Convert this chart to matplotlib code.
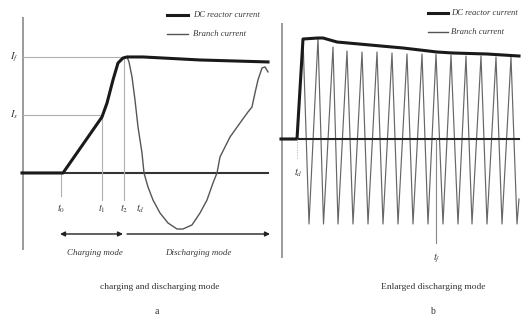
import matplotlib
matplotlib.use("Agg")
import matplotlib.pyplot as plt

plt.rcParams["mathtext.fontset"] = "stix"

# ---------------- data (a): charging and discharging mode ----------------
a_dc_t = [-0.01, 0.38, 0.40, 0.79, 0.84, 0.90, 0.95, 1.00, 1.04, 1.20, 1.77, 2.45]
a_dc_i = [0.0, 0.0, 0.0, 0.483, 0.603, 0.802, 0.948, 0.991, 1.0, 1.0, 0.974, 0.957]

a_br_t = [-0.01, 0.38, 0.40, 0.79, 0.84, 0.90, 0.95, 1.00, 1.04, 1.06, 1.09, 1.12,
          1.15, 1.19, 1.21, 1.25, 1.30, 1.37, 1.45, 1.54, 1.60, 1.69, 1.77, 1.84,
          1.90, 1.94, 1.97, 2.07, 2.17, 2.25, 2.29, 2.32, 2.35, 2.39, 2.42, 2.45]
a_br_i = [0.0, 0.0, 0.0, 0.483, 0.603, 0.802, 0.948, 0.991, 1.0, 0.957, 0.828, 0.629,
          0.397, 0.172, 0.0, -0.121, -0.233, -0.345, -0.431, -0.483, -0.483, -0.448, -0.345, -0.233,
          -0.086, 0.0, 0.138, 0.310, 0.431, 0.526, 0.569, 0.690, 0.802, 0.905, 0.914, 0.871]

a_levels = [1.0, 0.5]              # I_f, I_s
a_level_labels = ["$I_f$", "$I_s$"]
a_marks_t = [0.38, 0.79, 1.01, 1.17]   # t0, t1, t2, td
a_marks_lab = ["$t_0$", "$t_1$", "$t_2$", "$t_d$"]

# ---------------- data (b): enlarged discharging mode ----------------
b_dc_t = [-0.01, 0.15, 0.21, 0.36, 0.41, 0.55, 0.88, 1.21, 1.55, 1.71, 2.05, 2.37]
b_dc_i = [0.0, 0.0, 1.0, 1.01, 1.01, 0.97, 0.94, 0.91, 0.87, 0.86, 0.85, 0.83]

b_br_t = [-0.01, 0.15, 0.21, 0.27, 0.36, 0.415, 0.51, 0.56, 0.65, 0.71, 0.80, 0.86,
          0.95, 1.01, 1.10, 1.16, 1.25, 1.31, 1.40, 1.46, 1.54, 1.61, 1.69, 1.76,
          1.84, 1.90, 1.99, 2.05, 2.14, 2.20, 2.29, 2.35, 2.37]
b_br_i = [0.0, 0.0, 1.0, -0.85, 1.01, -0.85, 0.92, -0.85, 0.88, -0.85, 0.87, -0.85,
          0.87, -0.85, 0.86, -0.85, 0.85, -0.85, 0.85, -0.85, 0.85, -0.85, 0.84, -0.85,
          0.83, -0.85, 0.83, -0.85, 0.82, -0.85, 0.82, -0.85, -0.60]
b_tf = 1.54

legend_labels = ["DC reactor current", "Branch current"]

# ---------------- figure ----------------
W, H = 523, 321
fig = plt.figure(figsize=(W / 100, H / 100), dpi=100)
fig.patch.set_facecolor("white")

axA = fig.add_axes([0, 0, 270 / W, 1])
axB = fig.add_axes([270 / W, 0, 253 / W, 1])
axA.set_xlim(-0.23, 2.47)
axA.set_ylim(-1.276, 1.491)
axB.set_xlim(-0.12, 2.41)
axB.set_ylim(-1.82, 1.39)
for ax in (axA, axB):
    ax.axis("off")

serif = "Liberation Serif"
thick_c = "#1a1a1a"
thin_c = "#555555"
ref_c = "#b0b0b0"
txt_c = "#3a3a3a"

# ---- panel a ----
axA.plot([0, 0], [-0.664, 1.345], color="#8a8a8a", lw=1.2, solid_capstyle="butt")
axA.plot([-0.01, 2.45], [0, 0], color="#333333", lw=1.5)
for lev, lab in zip(a_levels, a_level_labels):
    x_end = a_marks_t[2] if lev == 1.0 else a_marks_t[1]
    axA.plot([0, x_end], [lev, lev], color=ref_c, lw=0.8)
    axA.text(-0.09, lev, lab, ha="center", va="center", fontsize=7.5, color=txt_c)
axA.plot([a_marks_t[0]] * 2, [0, -0.20], color=ref_c, lw=0.8)
axA.plot([a_marks_t[1]] * 2, [a_levels[1], -0.233], color=ref_c, lw=0.8)
axA.plot([a_marks_t[2]] * 2, [a_levels[0], -0.233], color=ref_c, lw=0.8)
for t, lab in zip(a_marks_t, a_marks_lab):
    axA.text(t, -0.31, lab, ha="center", va="center", fontsize=7.5, color=txt_c)

axA.plot(a_br_t, a_br_i, color=thin_c, lw=1.0)
axA.plot(a_dc_t, a_dc_i, color=thick_c, lw=2.2, solid_joinstyle="round")

# mode arrows
axA.annotate("", xy=(0.37, -0.526), xytext=(1.00, -0.526),
             arrowprops=dict(arrowstyle="<|-|>", color="#222222", lw=1.0,
                             mutation_scale=7, shrinkA=0, shrinkB=0))
axA.annotate("", xy=(1.04, -0.526), xytext=(2.47, -0.526),
             arrowprops=dict(arrowstyle="<|-", color="#222222", lw=1.0,
                             mutation_scale=7, shrinkA=0, shrinkB=0))
axA.text(0.72, -0.69, "Charging mode", ha="center", va="center", fontsize=6.5,
         style="italic", family=serif, color=txt_c)
axA.text(1.75, -0.69, "Discharging mode", ha="center", va="center", fontsize=6.5,
         style="italic", family=serif, color=txt_c)
axA.text(1.37, -0.983, "charging and discharging mode", ha="center", va="center",
         fontsize=6.8, family=serif, color="#333333")
axA.text(1.34, -1.198, "a", ha="center", va="center", fontsize=7, family=serif,
         color="#333333")

# legend a
axA.plot([1.44, 1.65], [1.362, 1.362], color=thick_c, lw=2.2)
axA.plot([1.44, 1.65], [1.20, 1.20], color=thin_c, lw=1.0)
axA.text(1.70, 1.362, legend_labels[0], ha="left", va="center", fontsize=6.2,
         style="italic", family=serif, color=txt_c)
axA.text(1.70, 1.20, legend_labels[1], ha="left", va="center", fontsize=6.2,
         style="italic", family=serif, color=txt_c)

# ---- panel b ----
axB.plot([0, 0], [-1.19, 1.16], color="#8a8a8a", lw=1.2, solid_capstyle="butt")
axB.plot(b_br_t, b_br_i, color="#666666", lw=0.85)
axB.plot([-0.01, 2.37], [0, 0], color="#222222", lw=1.5)
axB.plot(b_dc_t, b_dc_i, color=thick_c, lw=2.2, solid_joinstyle="round")
axB.plot([b_tf, b_tf], [0, -1.04], color="#888888", lw=0.8)
axB.plot([0.15, 0.15], [0, -0.2], color="#aaaaaa", lw=0.7, ls=":")
axB.text(0.16, -0.34, "$t_d$", ha="center", va="center", fontsize=7.5, color=txt_c)
axB.text(b_tf + 0.01, -1.19, "$t_f$", ha="center", va="center", fontsize=7.5,
         color=txt_c)
axB.text(1.51, -1.48, "Enlarged discharging mode", ha="center", va="center",
         fontsize=6.8, family=serif, color="#333333")
axB.text(1.50, -1.73, "b", ha="center", va="center", fontsize=7, family=serif,
         color="#333333")

# legend b
axB.plot([1.46, 1.66], [1.26, 1.26], color=thick_c, lw=2.2)
axB.plot([1.46, 1.66], [1.07, 1.07], color=thin_c, lw=1.0)
axB.text(1.69, 1.26, legend_labels[0], ha="left", va="center", fontsize=6.2,
         style="italic", family=serif, color=txt_c)
axB.text(1.69, 1.07, legend_labels[1], ha="left", va="center", fontsize=6.2,
         style="italic", family=serif, color=txt_c)

fig.savefig("out.png", dpi=100, facecolor="white")
